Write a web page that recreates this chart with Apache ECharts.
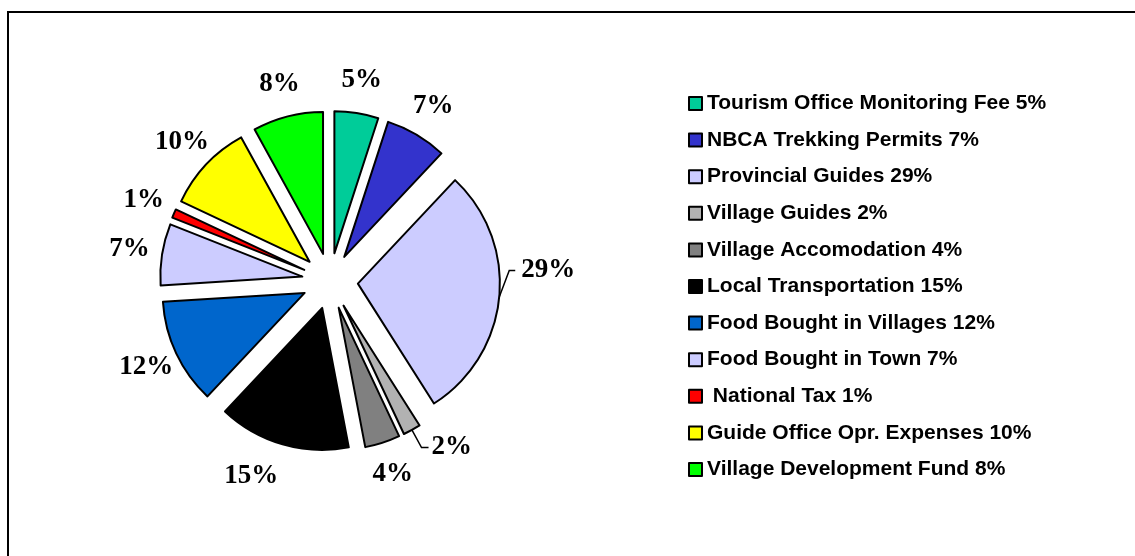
<!DOCTYPE html>
<html>
<head>
<meta charset="utf-8">
<script src="https://cdn.jsdelivr.net/npm/echarts@6/dist/echarts.min.js"></script>
<style>
  html, body { margin: 0; padding: 0; background: #fff; }
  #main { width: 1135px; height: 556px; }
</style>
</head>
<body>
<div id="main"></div>
<script>
// cost breakdown, clockwise from 12 o'clock
var names = [
  "Tourism Office Monitoring Fee",
  "NBCA Trekking Permits",
  "Provincial Guides",
  "Village Guides",
  "Village Accomodation",
  "Local Transportation",
  "Food Bought in Villages",
  "Food Bought in Town",
  " National Tax",
  "Guide Office Opr. Expenses",
  "Village Development Fund"
];
var values = [5, 7, 29, 2, 4, 15, 12, 7, 1, 10, 8];
var colors = [
  "#00CC99", "#3333CC", "#CCCCFF", "#B2B2B2", "#808080", "#000000",
  "#0066CC", "#CCCCFF", "#FF0000", "#FFFF00", "#00FF00"
];

var myChart = echarts.init(document.getElementById("main"));

var data = names.map(function (n, i) {
  var item = {
    name: n,
    value: values[i],
    selected: true,
    itemStyle: { color: colors[i] },
    labelLine: { show: false }
  };
  // these two labels sit off to the side with a leader line
  if (n === "Provincial Guides") {
    item.labelLine = { show: true, length: 5, length2: 13 };
    item.label = { distanceToLabelLine: 4 };
  }
  if (n === "Village Guides") {
    item.labelLine = { show: true, length: 20, length2: 7 };
    item.label = { distanceToLabelLine: 3 };
  }
  return item;
});

var option = {
  animation: false,
  graphic: [
    {
      type: "rect",
      shape: { x: 8, y: 12, width: 1200, height: 600 },
      style: { fill: "none", stroke: "#000", lineWidth: 2 },
      silent: true
    }
  ],
  legend: {
    orient: "vertical",
    left: 688,
    top: 93,
    padding: 0,
    itemWidth: 13,
    itemHeight: 13,
    itemGap: 15.6,
    icon: "rect",
    itemStyle: { borderColor: "#000", borderWidth: 2 },
    textStyle: {
      fontFamily: "Liberation Sans, Arial, sans-serif",
      fontWeight: "bold",
      fontSize: 21,
      color: "#000"
    },
    formatter: function (name) {
      return name + " " + values[names.indexOf(name)] + "%";
    },
    data: names
  },
  series: [
    {
      type: "pie",
      center: [330, 281],
      radius: [0, 142],
      startAngle: 90,
      clockwise: true,
      selectedMode: "multiple",
      selectedOffset: 28,
      avoidLabelOverlap: false,
      itemStyle: { borderColor: "#000", borderWidth: 2 },
      emphasis: { disabled: true },
      label: {
        show: true,
        position: "outside",
        formatter: "{c}%",
        fontFamily: "Liberation Serif, Times New Roman, serif",
        fontWeight: "bold",
        fontSize: 27,
        color: "#000",
        distanceToLabelLine: 0
      },
      labelLine: {
        length: 33,
        length2: 0,
        smooth: false,
        lineStyle: { color: "#000", width: 1.5 }
      },
      labelLayout: function (p) {
        var n = names[p.dataIndex];
        if (n === "Provincial Guides") {
          var pts = p.labelLinePoints;
          var y = p.labelRect.y + p.labelRect.height / 2 - 27;
          return {
            dy: -27,
            labelLinePoints: [pts[0], [pts[0][0] + 10, y], [pts[0][0] + 16, y]]
          };
        }
        if (n === "Village Guides") {
          return {};
        }
        if (n === "Local Transportation") {
          return { align: "center", dx: -22 };
        }
        return { align: "center" };
      },
      data: data
    }
  ]
};

myChart.setOption(option);
window.addEventListener("resize", function () {
  myChart.resize();
});
</script>
</body>
</html>
